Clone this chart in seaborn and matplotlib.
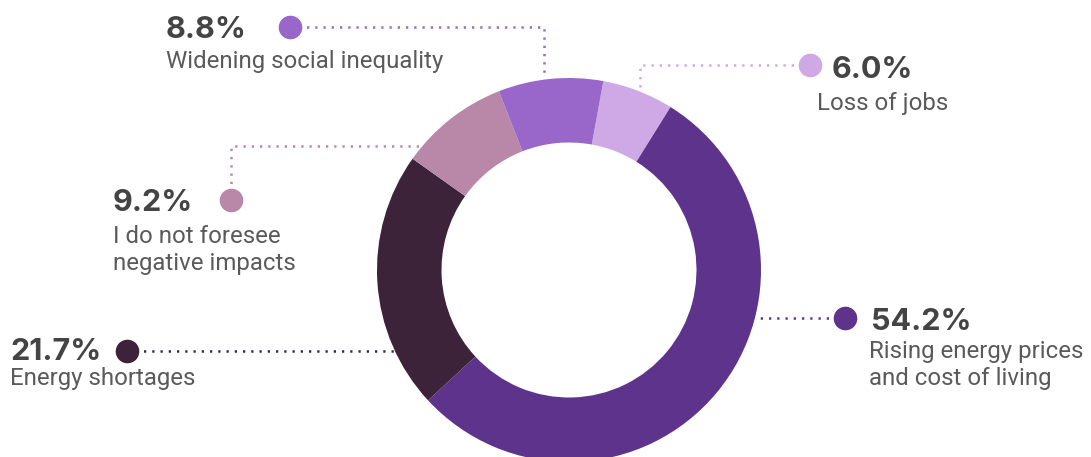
import matplotlib.pyplot as plt
import seaborn as sns

sns.set_theme(style="white")
plt.rcParams["font.family"] = ["Roboto", "DejaVu Sans"]

# data (clockwise from the top)
labels = ["Loss of jobs", "Rising energy prices\nand cost of living", "Energy shortages",
          "I do not foresee\nnegative impacts", "Widening social inequality"]
values = [6.0, 54.2, 21.7, 9.2, 8.8]
colors = ["#cfa9e6", "#5e338b", "#3c2339", "#b987a8", "#9966c9"]

# layout in pixels from the top-left corner
W, H = 1091, 457
cx, cy, R, r = 569, 270, 192, 127.5
dot_pos = [(810, 65), (845, 318), (127, 351), (231, 200), (290, 27)]
leaders = [
    [(810, 65), (640, 65), (640, 88)],
    [(845, 318), (760, 318)],
    [(127, 351), (394, 351)],
    [(231, 200), (231, 146), (422, 146)],
    [(290, 27), (544, 27), (544, 76)],
]
text_pos = [(832, 78, 817, 110), (871, 330, 869, 358), (10, 360, 10, 385),
            (113, 211, 113, 243), (166, 38, 166, 68)]

fig = plt.figure(figsize=(W / 100, H / 100), dpi=100)
ax = fig.add_axes([0, 0, 1, 1])

ax.pie(values, colors=colors, center=(cx, H - cy), radius=R, startangle=79.7,
       counterclock=False, wedgeprops=dict(width=R - r, linewidth=0), frame=True)
ax.set_xlim(0, W)
ax.set_ylim(0, H)
ax.set_aspect("auto")
ax.axis("off")

for lab, val, col, dp, path, tp in zip(labels, values, colors, dot_pos, leaders, text_pos):
    xs = [p[0] for p in path]
    ys = [H - p[1] for p in path]
    ax.plot(xs, ys, color=col, lw=1.8, linestyle=(0, (0.9, 2.4)), zorder=1)
    ax.plot(dp[0], H - dp[1], "o", color=col, markersize=17, markeredgewidth=0, zorder=3)
    px, py, lx, ly = tp
    ax.text(px, H - py, f"{val:.1f}%", fontsize=22, fontweight="bold",
            family=["Inter", "DejaVu Sans"], color="#444444", va="baseline", ha="left")
    for i, line in enumerate(lab.split("\n")):
        ax.text(lx, H - ly - 27 * i, line, fontsize=17.3, color="#5a5a5a",
                va="baseline", ha="left")

fig.savefig("out.png", dpi=100, facecolor="white")
